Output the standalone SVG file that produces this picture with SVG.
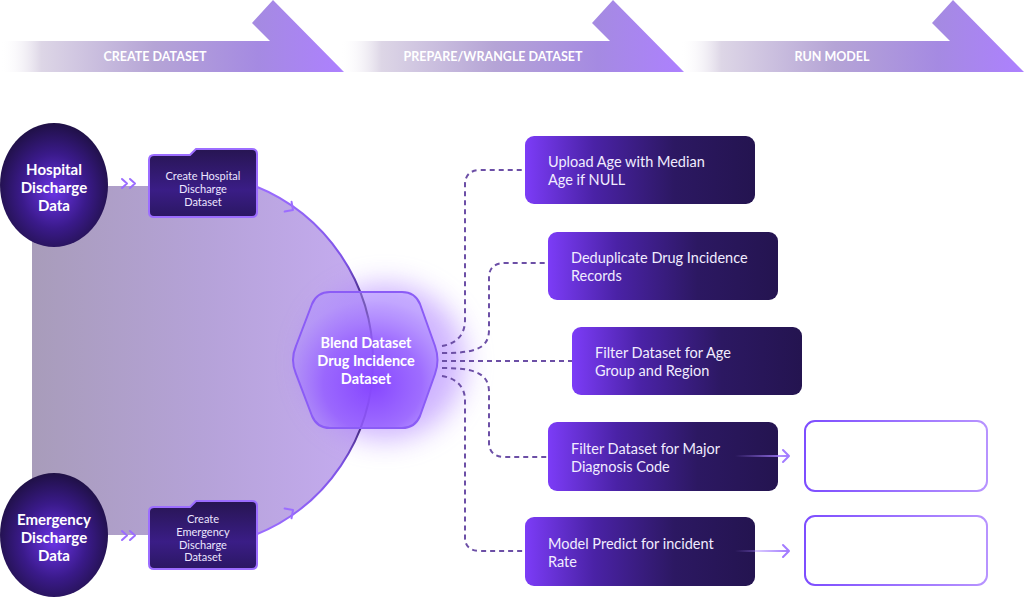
<svg xmlns="http://www.w3.org/2000/svg" width="1024" height="597" viewBox="0 0 1024 597">
<defs>
<linearGradient id="band" x1="0" y1="0" x2="1" y2="0">
<stop offset="0" stop-color="#ffffff" stop-opacity="0"/>
<stop offset="0.12" stop-color="#ddd6e6"/>
<stop offset="0.45" stop-color="#b5a4d6"/>
<stop offset="0.75" stop-color="#a58ae2"/>
<stop offset="1" stop-color="#ad80ff"/>
</linearGradient>
<linearGradient id="bigfill" x1="32" y1="0" x2="373" y2="0" gradientUnits="userSpaceOnUse">
<stop offset="0" stop-color="#a89cba"/>
<stop offset="0.5" stop-color="#b5a2d8"/>
<stop offset="1" stop-color="#c6acf2"/>
</linearGradient>
<linearGradient id="arcstroke" x1="0" y1="186" x2="0" y2="535" gradientUnits="userSpaceOnUse">
<stop offset="0" stop-color="#9b6cff"/>
<stop offset="0.22" stop-color="#7d52e6"/>
<stop offset="0.36" stop-color="#2a1850"/>
<stop offset="0.5" stop-color="#6a3fd0"/>
<stop offset="0.64" stop-color="#2a1850"/>
<stop offset="0.8" stop-color="#7d52e6"/>
<stop offset="1" stop-color="#9b6cff"/>
</linearGradient>
<radialGradient id="circ" cx="0.5" cy="0.55" r="0.55">
<stop offset="0" stop-color="#6a34e6"/>
<stop offset="0.55" stop-color="#3a1a8a"/>
<stop offset="1" stop-color="#1f1045"/>
</radialGradient>
<linearGradient id="folder" x1="0" y1="0" x2="0" y2="1">
<stop offset="0" stop-color="#271552"/>
<stop offset="0.6" stop-color="#3a1d86"/>
<stop offset="1" stop-color="#2b1763"/>
</linearGradient>
<linearGradient id="box" x1="0" y1="0" x2="1" y2="0">
<stop offset="0" stop-color="#7c3cf7"/>
<stop offset="0.3" stop-color="#4a22a6"/>
<stop offset="0.65" stop-color="#2c1862"/>
<stop offset="1" stop-color="#241450"/>
</linearGradient>
<radialGradient id="hexfill" cx="0.55" cy="0.68" r="0.62">
<stop offset="0" stop-color="#8646ff"/>
<stop offset="0.55" stop-color="#9660ff" stop-opacity="0.85"/>
<stop offset="1" stop-color="#b090ff" stop-opacity="0.5"/>
</radialGradient>
<linearGradient id="outline" x1="0" y1="0" x2="1" y2="0">
<stop offset="0" stop-color="#7d4dff"/>
<stop offset="1" stop-color="#b793ff"/>
</linearGradient>
<linearGradient id="outarrow1" x1="735" y1="0" x2="789" y2="0" gradientUnits="userSpaceOnUse">
<stop offset="0" stop-color="#a37cff" stop-opacity="0"/>
<stop offset="1" stop-color="#a37cff"/>
</linearGradient>
<filter id="blur" x="-50%" y="-50%" width="200%" height="200%">
<feGaussianBlur stdDeviation="14"/>
</filter>
<path id="arrowshape" d="M0,41 L270,41 L252,23 L273,0 L344,72 L0,72 Z"/>
</defs>
<style>
.band{fill:url(#band)}
.btxt{font-family:Lato,"Open Sans",sans-serif;font-weight:700;font-size:12.5px;fill:#ffffff;text-anchor:middle}
.ctxt{font-family:Lato,"Open Sans",sans-serif;font-weight:700;font-size:15px;fill:#ffffff;text-anchor:middle}
.ftxt{font-family:Lato,"Open Sans",sans-serif;font-size:11px;fill:#ece6ff;text-anchor:middle}
.htxt{font-family:Lato,"Open Sans",sans-serif;font-weight:700;font-size:14.5px;fill:#ffffff;text-anchor:middle}
.rtxt{font-family:Lato,"Open Sans",sans-serif;font-size:14.5px;fill:#f1ecff}
.folder{fill:url(#folder);stroke:#9c6dff;stroke-width:2}
.box{fill:url(#box)}
.outl{fill:#ffffff;stroke:url(#outline);stroke-width:2}
.dash{fill:none;stroke:#6c4fa6;stroke-width:2;stroke-dasharray:5 4}
.chev{fill:none;stroke:#9c6dff;stroke-width:2;stroke-linecap:round;stroke-linejoin:round}
.oarr{fill:none;stroke:url(#outarrow1);stroke-width:2}
.ohead{fill:none;stroke:#a37cff;stroke-width:2;stroke-linecap:round;stroke-linejoin:round}
</style>

<g id="banner">
<use href="#arrowshape" class="band"/>
<text class="btxt" x="155" y="61">CREATE DATASET</text>
<use href="#arrowshape" class="band" transform="translate(340,0)"/>
<text class="btxt" x="493" y="61">PREPARE/WRANGLE DATASET</text>
<use href="#arrowshape" class="band" transform="translate(680,0)"/>
<text class="btxt" x="832" y="61">RUN MODEL</text>
</g>

<g id="blend-area">
<path d="M32,186 L255,186 A188,188 0 0 1 255,535 L32,535 Z" fill="url(#bigfill)"/>
<ellipse cx="385" cy="362" rx="80" ry="78" fill="#a878ff" opacity="0.55" filter="url(#blur)"/>
<path d="M255,186 A188,188 0 0 1 255,535" fill="none" stroke="url(#arcstroke)" stroke-width="2"/>
</g>

<g id="connectors">
<path class="chev" d="M-6,-6 L0,0 L-6,6" transform="translate(293,210) rotate(35)"/>
<path class="chev" d="M-6,-6 L0,0 L-6,6" transform="translate(293,510) rotate(-35)"/>
<path class="chev" d="M122,179 L127,183.5 L122,188 M130,179 L135,183.5 L130,188"/>
<path class="chev" d="M122,531 L127,535.5 L122,540 M130,531 L135,535.5 L130,540"/>
<path class="dash" d="M442,346 C455,344 465,336 465,320 L465,184 C465,176 470,170 480,170 L525,170"/>
<path class="dash" d="M442,353 C472,353 489,350 489,330 L489,277 C489,268 495,263 505,263 L548,263"/>
<path class="dash" d="M442,361 L572,361"/>
<path class="dash" d="M442,368 C472,368 489,372 489,392 L489,443 C489,452 495,457 505,457 L548,457"/>
<path class="dash" d="M442,376 C455,378 465,386 465,400 L465,538 C465,546 470,551 480,551 L525,551"/>
</g>

<g id="hospital-data">
<ellipse cx="54" cy="185" rx="54" ry="62" fill="url(#circ)"/>
<text class="ctxt" x="54" y="175">Hospital</text>
<text class="ctxt" x="54" y="193">Discharge</text>
<text class="ctxt" x="54" y="211">Data</text>
</g>

<g id="emergency-data">
<ellipse cx="54" cy="535" rx="54" ry="62" fill="url(#circ)"/>
<text class="ctxt" x="54" y="525">Emergency</text>
<text class="ctxt" x="54" y="543">Discharge</text>
<text class="ctxt" x="54" y="561">Data</text>
</g>

<g id="create-hospital">
<path class="folder" d="M154,155 L190,155 L196,149 L252,149 Q257,149 257,154 L257,212 Q257,217 252,217 L154,217 Q149,217 149,212 L149,160 Q149,155 154,155 Z"/>
<text class="ftxt" x="203" y="180">Create Hospital</text>
<text class="ftxt" x="203" y="193">Discharge</text>
<text class="ftxt" x="203" y="206">Dataset</text>
</g>

<g id="create-emergency">
<path class="folder" d="M154,507 L190,507 L196,501 L252,501 Q257,501 257,506 L257,564 Q257,569 252,569 L154,569 Q149,569 149,564 L149,512 Q149,507 154,507 Z"/>
<text class="ftxt" x="203" y="523">Create</text>
<text class="ftxt" x="203" y="536">Emergency</text>
<text class="ftxt" x="203" y="549">Discharge</text>
<text class="ftxt" x="203" y="561">Dataset</text>
</g>

<g id="blend">
<path d="M296,346 L312,304 Q317,292 330,292 L402,292 Q415,292 420,304 L435,346 Q440,360 435,374 L420,416 Q415,428 402,428 L330,428 Q317,428 312,416 L296,374 Q290,360 296,346 Z" fill="url(#hexfill)" stroke="#8b5cf6" stroke-width="2"/>
<text class="htxt" x="366" y="348">Blend Dataset</text>
<text class="htxt" x="366" y="366">Drug Incidence</text>
<text class="htxt" x="366" y="384">Dataset</text>
</g>

<g id="upload-age">
<rect class="box" x="525" y="136" width="230" height="68" rx="9"/>
<text class="rtxt" x="548" y="167">Upload Age with Median</text>
<text class="rtxt" x="548" y="185">Age if NULL</text>
</g>

<g id="deduplicate">
<rect class="box" x="548" y="232" width="230" height="68" rx="9"/>
<text class="rtxt" x="571" y="263">Deduplicate Drug Incidence</text>
<text class="rtxt" x="571" y="281">Records</text>
</g>

<g id="filter-age">
<rect class="box" x="572" y="327" width="230" height="68" rx="9"/>
<text class="rtxt" x="595" y="358">Filter Dataset for Age</text>
<text class="rtxt" x="595" y="376">Group and Region</text>
</g>

<g id="filter-diagnosis">
<rect class="box" x="548" y="422" width="230" height="69" rx="9"/>
<text class="rtxt" x="571" y="454">Filter Dataset for Major</text>
<text class="rtxt" x="571" y="472">Diagnosis Code</text>
</g>

<g id="model-predict">
<rect class="box" x="525" y="517" width="230" height="69" rx="9"/>
<text class="rtxt" x="548" y="549">Model Predict for incident</text>
<text class="rtxt" x="548" y="567">Rate</text>
</g>

<g id="output-arrows">
<path class="oarr" d="M735,456 L789,456"/>
<path class="ohead" d="M783,450 L789,456 L783,462"/>
<path class="oarr" d="M735,551 L789,551"/>
<path class="ohead" d="M783,545 L789,551 L783,557"/>
</g>

<g id="output-1">
<rect class="outl" x="805" y="421" width="182" height="70" rx="10"/>
</g>

<g id="output-2">
<rect class="outl" x="805" y="516" width="182" height="69" rx="10"/>
</g>
</svg>
